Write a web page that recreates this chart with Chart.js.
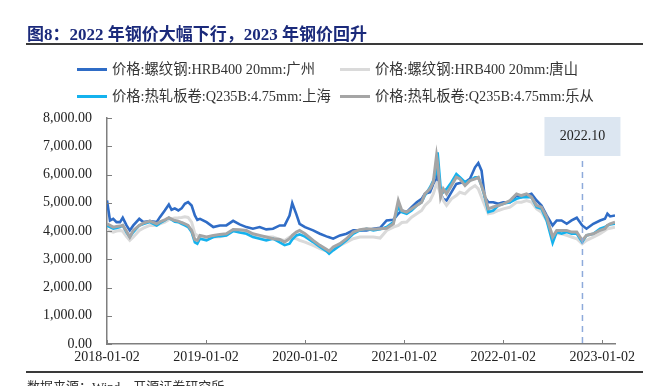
<!DOCTYPE html>
<html>
<head>
<meta charset="utf-8">
<script src="https://cdn.jsdelivr.net/npm/chart.js@4"></script>
<style>
  body { margin: 0; background: #fff; }
  #page { position: relative; width: 662px; height: 386px; overflow: hidden; font-family: "Liberation Serif", "Noto Sans CJK SC", serif; }
  #title { position: absolute; left: 27px; top: 20px; font-size: 17px; font-weight: bold; color: #1b2a7b; white-space: nowrap; }
  .rule { position: absolute; left: 26px; width: 617px; height: 2px; background: #3a3a3a; }
  .leg { position: absolute; font-size: 14.3px; color: #333; white-space: nowrap; line-height: 16px; }
  .leg i { display: inline-block; width: 30px; height: 3px; vertical-align: middle; margin-right: 5px; position: relative; top: -1px; }
  #source { position: absolute; left: 27px; top: 376px; font-size: 13px; color: #333; white-space: nowrap; }
  #wrap { position: absolute; left: 0; top: 0; width: 662px; height: 386px; }
</style>
</head>
<body>
<div id="page">
  <div id="wrap"><canvas id="chart"></canvas></div>
  <div id="title">图8：2022 年钢价大幅下行，2023 年钢价回升</div>
  <div class="rule" style="top:43px"></div>
  <div id="legend"></div>
  <div class="rule" style="top:371px; height:1.5px"></div>
  <div id="source">数据来源：Wind、开源证券研究所</div>
</div>
<script>
// 日期（周期约两周）
const dates = [
  '2018-01-02','2018-01-13','2018-01-25','2018-02-06','2018-02-19','2018-03-01','2018-03-15','2018-03-27','2018-04-09','2018-05-01',
  '2018-05-16','2018-06-09','2018-07-04','2018-07-16','2018-08-03','2018-08-18','2018-08-28','2018-09-09','2018-09-22','2018-10-04',
  '2018-10-16','2018-10-28','2018-11-10','2018-11-22','2018-12-01','2018-12-11','2019-01-04','2019-01-29','2019-02-22','2019-03-18',
  '2019-04-12','2019-05-06','2019-05-31','2019-06-24','2019-07-19','2019-08-12','2019-09-06','2019-10-01','2019-10-19','2019-11-06',
  '2019-11-16','2019-12-01','2019-12-13','2020-01-02','2020-02-01','2020-02-26','2020-03-21','2020-03-31','2020-04-15','2020-05-10',
  '2020-06-03','2020-06-28','2020-07-22','2020-08-16','2020-09-10','2020-10-05','2020-10-29','2020-11-23','2020-12-11','2020-12-24',
  '2021-01-11','2021-01-29','2021-02-17','2021-03-07','2021-03-19','2021-04-07','2021-04-19','2021-05-01','2021-05-05','2021-05-16',
  '2021-05-26','2021-06-07','2021-06-25','2021-07-13','2021-07-26','2021-08-14','2021-09-01','2021-09-20','2021-10-02','2021-10-14',
  '2021-10-26','2021-11-08','2021-11-26','2021-12-15','2022-01-02','2022-01-27','2022-02-20','2022-03-10','2022-03-29','2022-04-16',
  '2022-05-05','2022-05-23','2022-06-11','2022-07-03','2022-07-18','2022-08-05','2022-08-24','2022-09-11','2022-09-30','2022-10-20',
  '2022-11-05','2022-11-30','2022-12-25','2023-01-12','2023-01-21','2023-01-31','2023-02-18'
];

// 价格:螺纹钢:HRB400 20mm:广州
const gzRebar = [
  5079,4373,4432,4315,4315,4468,4197,4021,4197,4432,
  4315,4350,4315,4491,4726,4938,4750,4800,4726,4800,
  4961,5020,4900,4550,4397,4432,4315,4138,4197,4197,
  4360,4232,4138,4080,4138,4056,4080,4197,4197,4550,
  4984,4597,4256,4138,4021,3903,3809,3780,3727,3844,
  3903,4021,4021,4021,4080,4115,4373,4400,4609,4726,
  4667,4843,5020,5138,5314,5373,5667,5843,6100,5314,
  5138,5079,5373,5667,5700,5726,5843,6255,6407,6137,
  5197,5020,5020,4961,5020,5020,5255,5197,5255,5314,
  5079,4903,4550,4197,4373,4373,4256,4373,4468,4197,
  4080,4256,4373,4432,4609,4515,4550
];
// 价格:螺纹钢:HRB400 20mm:唐山
const tsRebar = [
  4021,4000,3962,4000,4021,3990,3800,3668,3786,4021,
  4100,4197,4197,4250,4315,4400,4432,4460,4468,4480,
  4500,4480,4315,3903,3844,3786,3727,3786,3800,3844,
  4021,3980,3962,3844,3800,3786,3786,3700,3668,3786,
  3760,3727,3668,3609,3492,3374,3290,3257,3374,3492,
  3609,3727,3786,3786,3790,3750,4021,4138,4197,4300,
  4315,4491,4609,4726,4903,5079,5314,5667,5600,5314,
  5079,4903,5138,5255,5373,5314,5490,5608,5490,5200,
  4903,4609,4640,4726,4785,4844,5020,5020,5079,5020,
  4785,4667,4373,3844,3903,3903,3844,3786,3727,3550,
  3668,3786,3903,4021,4080,4100,4138
];
// 价格:热轧板卷:Q235B:4.75mm:上海
const shHrc = [
  4197,4140,4080,4110,4138,4197,3950,3786,3962,4197,
  4250,4315,4197,4280,4373,4468,4400,4330,4315,4250,
  4197,4138,3962,3600,3550,3727,3668,3786,3820,3844,
  3997,3950,3903,3786,3727,3668,3727,3600,3500,3550,
  3700,3844,3880,3800,3609,3433,3290,3198,3315,3492,
  3668,3903,4021,4080,4021,4060,4138,4315,4843,4667,
  4609,4726,4903,5020,5255,5549,5784,6100,6784,5549,
  5373,5490,5725,6019,5902,5725,5784,5902,5902,5600,
  5197,4667,4726,4903,4961,5020,5138,5197,5197,5197,
  4844,4785,4373,3574,3962,3903,3962,3903,3903,3609,
  3844,3903,4080,4138,4197,4232,4256
];
// 价格:热轧板卷:Q235B:4.75mm:乐从
const lcHrc = [
  4256,4200,4138,4160,4174,4200,3990,3786,4021,4197,
  4280,4350,4256,4320,4397,4468,4420,4370,4350,4300,
  4256,4197,4020,3700,3668,3844,3786,3844,3880,3903,
  4056,4040,4021,3903,3844,3786,3727,3700,3609,3727,
  3850,3962,4021,3903,3668,3492,3350,3292,3433,3550,
  3727,3962,4044,4080,4060,4080,4100,4256,5079,4726,
  4667,4785,4903,5020,5314,5490,5725,6666,6400,5197,
  5490,5314,5608,5902,5843,5608,5784,5843,5902,5600,
  5255,4785,4850,4903,4961,5079,5314,5255,5314,5197,
  4903,4844,4491,3786,4021,4021,4021,3962,3962,3668,
  3844,3903,4021,4080,4197,4256,4315
];

const seriesNames = [
  '价格:螺纹钢:HRB400 20mm:广州',
  '价格:螺纹钢:HRB400 20mm:唐山',
  '价格:热轧板卷:Q235B:4.75mm:上海',
  '价格:热轧板卷:Q235B:4.75mm:乐从'
];
const seriesColors = ['#2f6cc6', '#dadada', '#14b2ee', '#a5a5a5'];
const xTickLabels = ['2018-01-02','2019-01-02','2020-01-02','2021-01-02','2022-01-02','2023-01-02'];
const markDate = '2022-10-21';
const markLabel = '2022.10';

const dayOf = (s) => {
  const [y, m, d] = s.split('-').map(Number);
  return Math.round((Date.UTC(y, m - 1, d) - Date.UTC(2018, 0, 2)) / 86400000);
};
const xs = dates.map(dayOf);
const toPoints = (vals) => vals.map((v, i) => ({ x: xs[i], y: v }));

// legend (two aligned columns)
const legendDOM = document.getElementById('legend');
const legPos = [[77, 61], [340, 61], [77, 88], [340, 88]];
seriesNames.forEach((name, i) => {
  const el = document.createElement('div');
  el.className = 'leg';
  el.style.left = legPos[i][0] + 'px';
  el.style.top = legPos[i][1] + 'px';
  el.innerHTML = `<i style="background:${seriesColors[i]}"></i>${name}`;
  legendDOM.appendChild(el);
});

const tickFont = { family: '"Liberation Serif", serif', size: 14 };

const overlay = {
  id: 'overlay',
  afterDatasetsDraw(chart) {
    const { ctx, chartArea, scales } = chart;
    const xScale = scales.x, yScale = scales.y;
    ctx.save();
    // inside tick marks
    ctx.strokeStyle = '#7f7f7f';
    ctx.lineWidth = 1;
    ctx.beginPath();
    xTickLabels.forEach((t) => {
      const px = Math.round(xScale.getPixelForValue(dayOf(t))) + 0.5;
      ctx.moveTo(px, chartArea.bottom);
      ctx.lineTo(px, chartArea.bottom - 4);
    });
    for (let v = 0; v <= 8000; v += 1000) {
      const py = Math.round(yScale.getPixelForValue(v)) + 0.5;
      ctx.moveTo(chartArea.left, py);
      ctx.lineTo(chartArea.left + 5, py);
    }
    ctx.stroke();

    // marker line + label box
    const mx = xScale.getPixelForValue(dayOf(markDate));
    const boxW = 76, boxH = 39, boxTop = chartArea.top - 1;
    ctx.fillStyle = '#dce6f1';
    ctx.fillRect(mx - boxW / 2, boxTop, boxW, boxH);
    ctx.fillStyle = '#222';
    ctx.font = '14px "Liberation Serif", serif';
    ctx.textAlign = 'center';
    ctx.textBaseline = 'middle';
    ctx.fillText(markLabel, mx, boxTop + boxH / 2);
    ctx.strokeStyle = '#8eaadb';
    ctx.lineWidth = 1.5;
    ctx.setLineDash([6, 5]);
    ctx.beginPath();
    ctx.moveTo(mx, boxTop + boxH + 5);
    ctx.lineTo(mx, chartArea.bottom);
    ctx.stroke();
    ctx.restore();
  }
};

const config = {
  type: 'line',
  data: {
    datasets: seriesNames.map((name, i) => ({
      label: name,
      data: toPoints([gzRebar, tsRebar, shHrc, lcHrc][i]),
      borderColor: seriesColors[i],
      backgroundColor: seriesColors[i],
      borderWidth: i === 1 || i === 3 ? 3 : 2.6,
      pointRadius: 0,
      tension: 0,
      order: 3 - i
    }))
  },
  options: {
    responsive: true,
    maintainAspectRatio: false,
    animation: false,
    layout: { padding: { left: 0, right: 47, top: 118, bottom: 0 } },
    plugins: { legend: { display: false }, tooltip: { enabled: false } },
    scales: {
      x: {
        type: 'linear',
        min: 0,
        max: xs[xs.length - 1],
        afterBuildTicks: (axis) => { axis.ticks = xTickLabels.map((t) => ({ value: dayOf(t) })); },
        afterFit: (axis) => { axis.height = 42; },
        grid: { display: false, drawTicks: false },
        border: { display: true, color: '#7f7f7f', width: 1.5 },
        ticks: {
          padding: 5,
          color: '#222',
          font: tickFont,
          maxRotation: 0,
          autoSkip: false,
          callback: (v) => xTickLabels.find((t) => dayOf(t) === v) || ''
        }
      },
      y: {
        min: 0,
        max: 8000,
        afterFit: (axis) => { axis.width = 107; },
        grid: { display: false, drawTicks: false },
        border: { display: true, color: '#7f7f7f', width: 1.5 },
        ticks: {
          stepSize: 1000,
          padding: 15,
          color: '#222',
          font: tickFont,
          callback: (v) => v.toLocaleString('en-US', { minimumFractionDigits: 2, maximumFractionDigits: 2 })
        }
      }
    }
  },
  plugins: [overlay]
};

new Chart(document.getElementById('chart'), config);
</script>
</body>
</html>
